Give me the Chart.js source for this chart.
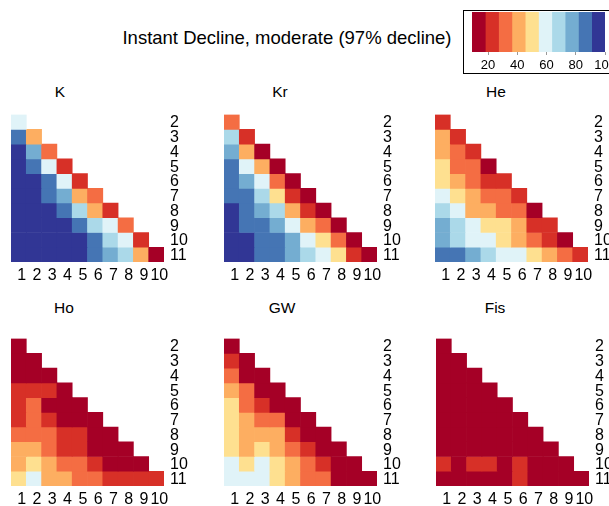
<!DOCTYPE html>
<html><head><meta charset="utf-8">
<script src="https://cdn.jsdelivr.net/npm/chart.js@4.4.1/dist/chart.umd.min.js"></script>
<style>
html,body{margin:0;padding:0;background:#fff;overflow:hidden;}
#root{position:relative;width:609px;height:506px;overflow:hidden;font-family:Arial,"Liberation Sans",sans-serif;color:#000;}
.box{position:absolute;}
.txt{position:absolute;white-space:nowrap;transform:translate(-50%,-50%);line-height:1;}
</style></head><body>
<div id="root"></div>
<script>
// ---------- data ----------
const columns = ['1','2','3','4','5','6','7','8','9','10'];
const rows = ['2','3','4','5','6','7','8','9','10','11'];
const colorbarTicks = [20, 40, 60, 80, 100];
const colorbarMin = 9;
const colorbarMax = 100;
const mainTitle = 'Instant Decline, moderate (97% decline)';

const K = [
  [59],
  [86, 41],
  [95, 77, 32],
  [95, 86, 59, 23],
  [95, 95, 86, 59, 23],
  [95, 95, 86, 77, 41, 32],
  [95, 95, 95, 86, 68, 41, 23],
  [95, 95, 95, 95, 86, 68, 59, 32],
  [95, 95, 95, 95, 95, 86, 68, 59, 23],
  [95, 95, 95, 95, 95, 86, 77, 68, 41, 14]
];
const Kr = [
  [32],
  [68, 23],
  [77, 41, 14],
  [86, 59, 41, 14],
  [86, 77, 59, 32, 14],
  [86, 86, 68, 50, 23, 14],
  [95, 86, 77, 68, 41, 23, 14],
  [95, 86, 86, 77, 59, 41, 32, 14],
  [95, 95, 86, 86, 77, 59, 50, 32, 14],
  [95, 95, 86, 86, 77, 68, 59, 50, 23, 14]
];
const He = [
  [23],
  [41, 23],
  [41, 32, 23],
  [50, 32, 32, 14],
  [50, 41, 32, 23, 23],
  [59, 50, 41, 32, 32, 23],
  [68, 59, 41, 41, 32, 32, 14],
  [77, 68, 59, 50, 50, 41, 23, 23],
  [77, 68, 59, 59, 50, 41, 32, 23, 14],
  [86, 86, 77, 68, 59, 59, 50, 41, 32, 23]
];
const Ho = [
  [14],
  [14, 14],
  [14, 14, 14],
  [23, 23, 23, 14],
  [23, 32, 14, 14, 14],
  [23, 32, 23, 14, 14, 14],
  [32, 32, 32, 23, 23, 14, 14],
  [41, 41, 32, 23, 23, 14, 14, 14],
  [41, 50, 41, 32, 32, 23, 14, 14, 14],
  [50, 59, 41, 41, 32, 32, 23, 23, 23, 23]
];
const GW = [
  [14],
  [23, 14],
  [32, 14, 14],
  [41, 32, 14, 14],
  [50, 32, 23, 14, 14],
  [50, 41, 32, 32, 14, 14],
  [50, 41, 41, 41, 23, 14, 14],
  [50, 41, 50, 41, 32, 23, 14, 14],
  [59, 50, 59, 50, 41, 32, 23, 14, 14],
  [59, 59, 59, 50, 41, 32, 32, 14, 14, 14]
];
const Fis = [
  [14],
  [14, 14],
  [14, 14, 14],
  [14, 14, 14, 14],
  [14, 14, 14, 14, 14],
  [14, 14, 14, 14, 14, 14],
  [14, 14, 14, 14, 14, 14, 14],
  [14, 14, 14, 14, 14, 14, 14, 14],
  [23, 14, 23, 23, 14, 23, 14, 14, 14],
  [14, 14, 14, 14, 14, 23, 14, 14, 14, 14]
];

// ---------- styling / layout ----------
const palette = ['#a50026','#d73027','#f46d43','#fdae61','#fee090','#e0f3f8','#abd9e9','#74add1','#4575b4','#313695'];
const FONT = 'Arial, "Liberation Sans", sans-serif';
const root = document.getElementById('root');
const binW = (colorbarMax - colorbarMin) / palette.length;
function colorFor(v) {
  let k = Math.floor((v - colorbarMin) / binW);
  k = Math.max(0, Math.min(palette.length - 1, k));
  return palette[k];
}
function addText(text, x, y, size) {
  const d = document.createElement('div');
  d.className = 'txt';
  d.style.left = x + 'px'; d.style.top = y + 'px'; d.style.fontSize = size + 'px';
  d.textContent = text;
  root.appendChild(d);
}
function addCanvas(left, top, w, h) {
  const c = document.createElement('canvas');
  c.width = w; c.height = h;
  c.style.position = 'absolute'; c.style.left = left + 'px'; c.style.top = top + 'px';
  c.style.width = w + 'px'; c.style.height = h + 'px';
  root.appendChild(c);
  return c;
}

addText(mainTitle, 287, 38, 18.5);

const AREA = 153, PADL = 4, PADT = 10, YW = 45, XH = 30;
const panels = [
  {name: 'K',   data: K,   left: 11,  top: 109, tx: 60,  ty: 92},
  {name: 'Kr',  data: Kr,  left: 224, top: 109, tx: 280, ty: 92},
  {name: 'He',  data: He,  left: 435, top: 109, tx: 496, ty: 92},
  {name: 'Ho',  data: Ho,  left: 11,  top: 333, tx: 64,  ty: 308},
  {name: 'GW',  data: GW,  left: 224, top: 333, tx: 282, ty: 308},
  {name: 'Fis', data: Fis, left: 436, top: 333, tx: 495, ty: 308}
];

panels.forEach(p => {
  addText(p.name, p.tx, p.ty, 15.5);
  const W = PADL + AREA + YW, H = PADT + AREA + XH;
  const cv = addCanvas(p.left - PADL, p.top - PADT, W, H);
  const datasets = rows.map((r, i) => {
    const rv = Number(r);
    const vals = p.data[i];
    return {
      label: r,
      data: columns.map((c, j) => j < vals.length ? [rv - 0.5, rv + 0.5] : null),
      backgroundColor: columns.map((c, j) => j < vals.length ? colorFor(vals[j]) : 'rgba(0,0,0,0)'),
      borderWidth: 0,
      grouped: false,
      barPercentage: 1,
      categoryPercentage: 1
    };
  });
  new Chart(cv, {
    type: 'bar',
    data: {labels: columns, datasets},
    options: {
      responsive: false, animation: false, events: [],
      devicePixelRatio: 1,
      layout: {padding: {left: PADL, top: PADT, right: 0, bottom: 0}},
      plugins: {legend: {display: false}, tooltip: {enabled: false}, title: {display: false}},
      scales: {
        x: {
          type: 'category', offset: true,
          grid: {display: false, drawTicks: false}, border: {display: false},
          ticks: {autoSkip: false, maxRotation: 0, minRotation: 0, padding: 4, labelOffset: 3,
                  color: '#000', font: {family: FONT, size: 16}},
          afterFit: s => { s.height = XH; }
        },
        y: {
          type: 'linear', position: 'right', reverse: true, min: 1.5, max: 11.5,
          grid: {display: false, drawTicks: false}, border: {display: false},
          afterBuildTicks: s => { s.ticks = rows.map(r => ({value: Number(r)})); },
          ticks: {autoSkip: false, padding: 6, labelOffset: 1, color: '#000', font: {family: FONT, size: 16},
                  callback: v => rows[rows.indexOf(String(v))]},
          afterFit: s => { s.width = YW; }
        }
      }
    }
  });
});

// ---------- colorbar ----------
const frame = document.createElement('div');
frame.className = 'box';
frame.style.cssText = 'position:absolute;left:463px;top:10px;width:170px;height:62px;border:1px solid #000;';
root.appendChild(frame);

const CBW = 133, CBH = 40, CBPR = 17, CBXH = 25;
const cbCanvas = addCanvas(472, 12, CBW + CBPR, CBH + CBXH);
const cbDatasets = palette.map((col, k) => ({
  data: [[colorbarMin + k * binW, colorbarMin + (k + 1) * binW]],
  backgroundColor: col, borderWidth: 0, grouped: false, barPercentage: 1, categoryPercentage: 1
}));
new Chart(cbCanvas, {
  type: 'bar',
  data: {labels: [''], datasets: cbDatasets},
  options: {
    indexAxis: 'y', responsive: false, animation: false, events: [], devicePixelRatio: 1,
    layout: {padding: {left: 0, top: 0, right: CBPR, bottom: 0}},
    plugins: {legend: {display: false}, tooltip: {enabled: false}},
    scales: {
      y: {display: false},
      x: {
        type: 'linear', min: colorbarMin, max: colorbarMax,
        afterBuildTicks: s => { s.ticks = colorbarTicks.map(v => ({value: v})); },
        grid: {drawOnChartArea: false, drawTicks: true, tickLength: 3, color: '#999'},
        border: {display: false},
        ticks: {autoSkip: false, padding: 3, color: '#000', font: {family: FONT, size: 13}},
        afterFit: s => { s.height = CBXH; }
      }
    }
  }
});
</script>
</body></html>
